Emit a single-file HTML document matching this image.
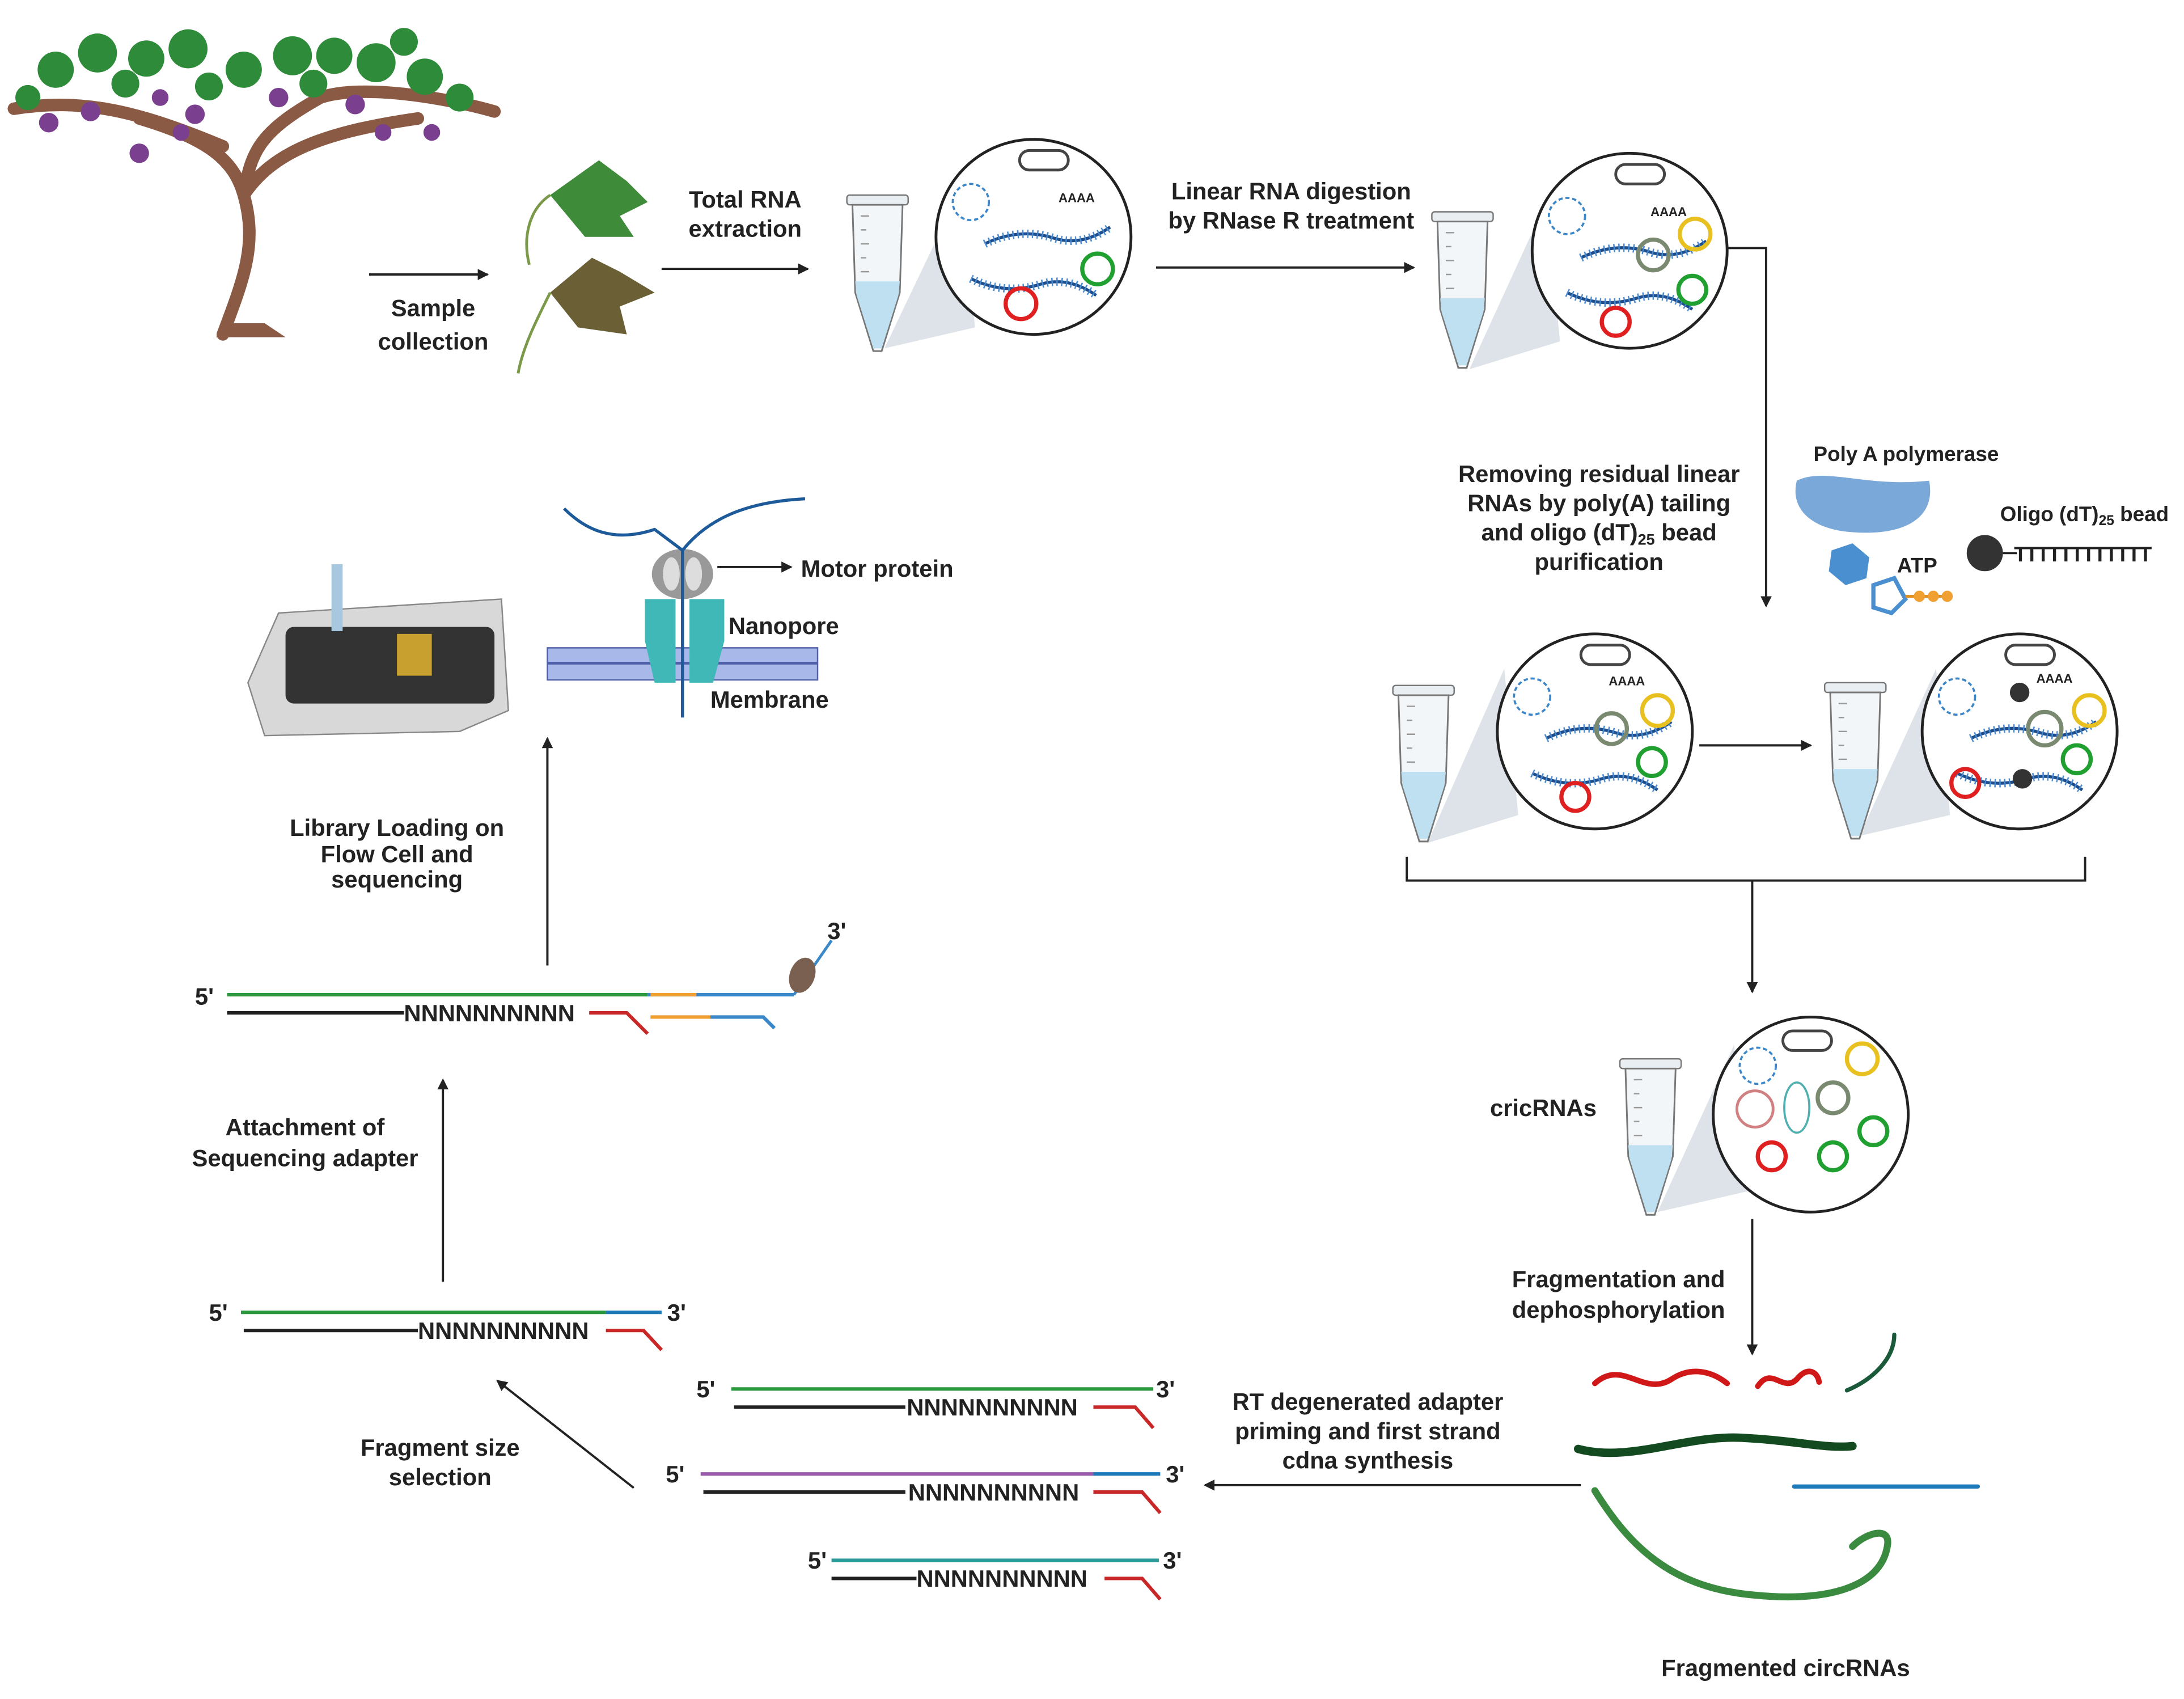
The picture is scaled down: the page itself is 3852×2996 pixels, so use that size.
<!DOCTYPE html>
<html><head><meta charset="utf-8">
<style>
html,body{margin:0;padding:0;background:#fff;}
svg{display:block;}
text{font-family:"Liberation Sans",sans-serif;font-weight:bold;fill:#222;}
</style></head>
<body>
<svg width="3852" height="2996" viewBox="0 0 1568 1219.5" xmlns="http://www.w3.org/2000/svg">
<defs>
<marker id="ah" markerWidth="8" markerHeight="8" refX="7" refY="4" orient="auto" markerUnits="userSpaceOnUse">
<path d="M0,0 L8,4 L0,8 z" fill="#222"/></marker>
<g id="tube">
<rect x="-22" y="0" width="44" height="7" rx="2" fill="#e8eef2" stroke="#777" stroke-width="1"/>
<path d="M-18,7 L18,7 L16,70 L3,112 L-3,112 L-16,70 Z" fill="#f3f6f8" stroke="#777" stroke-width="1.2"/>
<path d="M-16,62 L16,62 L15,72 L3,110 L-3,110 L-15,72 Z" fill="#bfe0f0"/>
<path d="M-12,15 h6 M-12,25 h4 M-12,35 h6 M-12,45 h4 M-12,55 h6" stroke="#999" stroke-width="1"/>
</g>
<g id="comb">
<path d="M0,0 q25,-12 50,-4 q20,6 40,-8" fill="none" stroke="#1d4d8a" stroke-width="2.2"/>
<path d="M0,0 q25,-12 50,-4 q20,6 40,-8" fill="none" stroke="#4a8ad0" stroke-width="6" stroke-dasharray="1,2.5"/>
</g>
<g id="circ">
<circle r="70" fill="#fff" stroke="#222" stroke-width="2"/>
<circle cx="-45" cy="-25" r="13" fill="none" stroke="#3a86c8" stroke-width="1.5" stroke-dasharray="3,2"/>
<rect x="-10" y="-62" width="35" height="14" rx="7" fill="none" stroke="#444" stroke-width="2"/>
<use href="#comb" x="-35" y="5"/>
<use href="#comb" x="-45" y="30" transform="scale(1,-1) translate(0,-60)"/>
</g>
</defs>

<!-- tree -->
<path d="M160,240 C175,200 185,175 175,140 C168,115 150,100 100,85 M175,140 C195,110 230,95 300,85 M10,78 C60,70 100,80 160,105 M175,140 C180,110 185,95 230,70 C260,60 320,70 355,80" fill="none" stroke="#8a5a44" stroke-width="9" stroke-linecap="round"/>
<path d="M155,242 L205,242 L190,232 L168,232 Z" fill="#8a5a44"/>
<g fill="#2e8b3a">
<circle cx="40" cy="50" r="13"/><circle cx="70" cy="38" r="14"/><circle cx="105" cy="42" r="13"/><circle cx="135" cy="35" r="14"/><circle cx="175" cy="50" r="13"/><circle cx="210" cy="40" r="14"/><circle cx="240" cy="40" r="13"/><circle cx="270" cy="45" r="14"/><circle cx="305" cy="55" r="13"/><circle cx="330" cy="70" r="10"/><circle cx="20" cy="70" r="9"/><circle cx="90" cy="60" r="10"/><circle cx="150" cy="62" r="10"/><circle cx="225" cy="60" r="10"/><circle cx="290" cy="30" r="10"/>
</g>
<g fill="#7b3f8f">
<circle cx="35" cy="88" r="7"/><circle cx="100" cy="110" r="7"/><circle cx="65" cy="80" r="7"/><circle cx="140" cy="82" r="7"/><circle cx="130" cy="95" r="6"/><circle cx="200" cy="70" r="7"/><circle cx="255" cy="75" r="7"/><circle cx="275" cy="95" r="6"/><circle cx="310" cy="95" r="6"/><circle cx="115" cy="70" r="6"/>
</g>
<!-- leaves -->
<path d="M395,140 l35,-25 l20,15 l15,15 l-20,10 l10,15 l-35,0 z" fill="#3e8c3a"/>
<path d="M395,210 l30,-25 l20,10 l25,15 l-25,10 l5,20 l-35,-5 z" fill="#6b6035"/>
<path d="M395,140 C380,150 375,170 380,190 M395,210 C385,230 375,250 372,268" fill="none" stroke="#7a9a4a" stroke-width="2"/>

<g stroke="#222" stroke-width="1.6" fill="none">
<line x1="265" y1="197" x2="350" y2="197" marker-end="url(#ah)"/>
<line x1="475" y1="193" x2="580" y2="193" marker-end="url(#ah)"/>
<line x1="830" y1="192" x2="1015" y2="192" marker-end="url(#ah)"/>
<path d="M1240,178 L1268,178 L1268,435" marker-end="url(#ah)"/>
<line x1="1220" y1="535" x2="1300" y2="535" marker-end="url(#ah)"/>
<path d="M1010,615 L1010,632 L1497,632 L1497,615"/>
<line x1="1258" y1="632" x2="1258" y2="712" marker-end="url(#ah)"/>
<line x1="1258" y1="875" x2="1258" y2="972" marker-end="url(#ah)"/>
<line x1="1135" y1="1066" x2="865" y2="1066" marker-end="url(#ah)"/>
<line x1="455" y1="1068" x2="357" y2="991" marker-end="url(#ah)"/>
<line x1="318" y1="920" x2="318" y2="775" marker-end="url(#ah)"/>
<line x1="393" y1="693" x2="393" y2="530" marker-end="url(#ah)"/>
<line x1="515" y1="407" x2="568" y2="407" marker-end="url(#ah)"/>
</g>

<!-- tubes, wedges, circles -->
<path d="M635,250 L690,135 L700,235 Z" fill="#dde3e8"/>
<use href="#tube" x="630" y="140"/>
<use href="#circ" x="742" y="170"/>
<circle cx="733" cy="218" r="11" fill="none" stroke="#e02020" stroke-width="3"/>
<circle cx="788" cy="193" r="11" fill="none" stroke="#20a030" stroke-width="3"/>
<text x="760" y="145" font-size="9" font-weight="normal">AAAA</text>

<path d="M1055,265 L1110,145 L1120,245 Z" fill="#dde3e8"/>
<use href="#tube" x="1050" y="152"/>
<use href="#circ" x="1170" y="180"/>
<circle cx="1187" cy="183" r="11" fill="none" stroke="#7a8a70" stroke-width="3"/>
<circle cx="1217" cy="168" r="11" fill="none" stroke="#e8c020" stroke-width="3"/>
<circle cx="1215" cy="208" r="10" fill="none" stroke="#20a030" stroke-width="3"/>
<circle cx="1160" cy="231" r="10" fill="none" stroke="#e02020" stroke-width="3"/>
<text x="1185" y="155" font-size="9" font-weight="normal">AAAA</text>

<path d="M1025,605 L1080,480 L1090,585 Z" fill="#dde3e8"/>
<use href="#tube" x="1022" y="492"/>
<use href="#circ" x="1145" y="525"/>
<circle cx="1157" cy="523" r="11" fill="none" stroke="#7a8a70" stroke-width="3"/>
<circle cx="1190" cy="510" r="11" fill="none" stroke="#e8c020" stroke-width="3"/>
<circle cx="1186" cy="547" r="10" fill="none" stroke="#20a030" stroke-width="3"/>
<circle cx="1131" cy="572" r="10" fill="none" stroke="#e02020" stroke-width="3"/>
<text x="1155" y="492" font-size="9" font-weight="normal">AAAA</text>

<path d="M1335,600 L1390,480 L1400,585 Z" fill="#dde3e8"/>
<use href="#tube" x="1332" y="490"/>
<use href="#circ" x="1450" y="525"/>
<circle cx="1468" cy="523" r="12" fill="none" stroke="#7a8a70" stroke-width="3"/>
<circle cx="1500" cy="510" r="11" fill="none" stroke="#e8c020" stroke-width="3"/>
<circle cx="1491" cy="545" r="10" fill="none" stroke="#20a030" stroke-width="3"/>
<circle cx="1411" cy="562" r="10" fill="none" stroke="#e02020" stroke-width="3"/>
<circle cx="1450" cy="497" r="7" fill="#333"/><circle cx="1452" cy="559" r="7" fill="#333"/>
<text x="1462" y="490" font-size="9" font-weight="normal">AAAA</text>

<path d="M1190,870 L1245,750 L1255,855 Z" fill="#dde3e8"/>
<use href="#tube" x="1185" y="760"/>
<circle cx="1300" cy="800" r="70" fill="#fff" stroke="#222" stroke-width="2"/>
<rect x="1280" y="740" width="35" height="14" rx="7" fill="none" stroke="#444" stroke-width="2"/>
<circle cx="1262" cy="765" r="13" fill="none" stroke="#3a86c8" stroke-width="1.5" stroke-dasharray="3,2"/>
<circle cx="1337" cy="760" r="11" fill="none" stroke="#e8c020" stroke-width="3"/>
<circle cx="1260" cy="796" r="13" fill="none" stroke="#d08080" stroke-width="2"/>
<ellipse cx="1290" cy="795" rx="9" ry="18" fill="none" stroke="#50b0b0" stroke-width="1.5"/>
<circle cx="1316" cy="788" r="11" fill="none" stroke="#7a8a70" stroke-width="3"/>
<circle cx="1345" cy="812" r="10" fill="none" stroke="#20a030" stroke-width="3"/>
<circle cx="1272" cy="830" r="10" fill="none" stroke="#e02020" stroke-width="3"/>
<circle cx="1316" cy="830" r="10" fill="none" stroke="#20a030" stroke-width="3"/>

<!-- poly A reagents -->
<path d="M1290,345 C1310,335 1340,350 1385,345 C1390,370 1370,385 1330,382 C1300,380 1285,365 1290,345 Z" fill="#7aa8d8"/>
<polygon points="1315,395 1330,390 1342,400 1340,415 1325,420 1313,410" fill="#4a90d0"/>
<polygon points="1345,420 1360,415 1368,430 1358,440 1345,436" fill="none" stroke="#4a90d0" stroke-width="3"/>
<path d="M1368,428 L1400,428" stroke="#e09020" stroke-width="2"/>
<circle cx="1378" cy="428" r="4" fill="#f0a030"/><circle cx="1388" cy="428" r="4" fill="#f0a030"/><circle cx="1398" cy="428" r="4" fill="#f0a030"/>
<circle cx="1425" cy="397" r="13" fill="#333"/>
<line x1="1438" y1="397" x2="1448" y2="397" stroke="#222" stroke-width="1.5"/>
<text x="1446" y="403" font-size="15" font-weight="normal" letter-spacing="-1">TTTTTTTTTTTT</text>

<!-- fragments -->
<g fill="none" stroke-linecap="round">
<path d="M1145,993 C1165,975 1180,1003 1200,990 C1215,980 1230,985 1240,993" stroke="#d01818" stroke-width="4"/>
<path d="M1262,995 C1272,980 1280,1000 1290,990 C1298,980 1305,985 1306,992" stroke="#d01818" stroke-width="4"/>
<path d="M1326,998 C1345,990 1360,975 1360,958" stroke="#1a5a3a" stroke-width="3"/>
<path d="M1133,1040 C1170,1050 1210,1030 1250,1032 C1290,1034 1310,1040 1330,1038" stroke="#134a20" stroke-width="6"/>
<line x1="1288" y1="1067" x2="1420" y2="1067" stroke="#1e7ab8" stroke-width="3"/>
<path d="M1145,1070 C1170,1110 1200,1140 1260,1145 C1310,1150 1350,1140 1355,1110 C1358,1095 1340,1100 1330,1110" stroke="#3a8a40" stroke-width="5"/>
</g>

<!-- constructs -->
<g fill="none" stroke-width="2.5">
<line x1="525" y1="997" x2="828" y2="997" stroke="#2a9a3e"/>
<line x1="527" y1="1010" x2="650" y2="1010" stroke="#222"/>
<path d="M785,1010 L815,1010 L828,1025" stroke="#c82828"/>
<line x1="503" y1="1058" x2="785" y2="1058" stroke="#9a5aaa"/>
<line x1="785" y1="1058" x2="833" y2="1058" stroke="#1e7ab8"/>
<line x1="505" y1="1071" x2="650" y2="1071" stroke="#222"/>
<path d="M785,1071 L820,1071 L833,1086" stroke="#c82828"/>
<line x1="597" y1="1120" x2="832" y2="1120" stroke="#2a9a9a"/>
<line x1="597" y1="1133" x2="658" y2="1133" stroke="#222"/>
<path d="M793,1133 L820,1133 L833,1148" stroke="#c82828"/>
<line x1="173" y1="942" x2="435" y2="942" stroke="#2a9a3e"/>
<line x1="435" y1="942" x2="475" y2="942" stroke="#1e7ab8"/>
<line x1="175" y1="955" x2="300" y2="955" stroke="#222"/>
<path d="M435,955 L462,955 L475,969" stroke="#c82828"/>
<line x1="163" y1="714" x2="465" y2="714" stroke="#2a9a3e"/>
<line x1="465" y1="714" x2="570" y2="714" stroke="#3a88c8"/>
<line x1="467" y1="714" x2="500" y2="714" stroke="#f0a030"/>
<path d="M570,714 L597,675" stroke="#3a88c8" stroke-width="2"/>
<line x1="163" y1="727" x2="290" y2="727" stroke="#222"/>
<path d="M423,727 L450,727 L465,742" stroke="#c82828"/>
<line x1="467" y1="730" x2="510" y2="730" stroke="#f0a030"/>
<path d="M510,730 L548,730 L556,738" stroke="#3a88c8"/>
</g>
<ellipse cx="576" cy="700" rx="9" ry="13" fill="#7a6050" transform="rotate(20 576 700)"/>
<g font-size="17" font-weight="normal">
<text x="651" y="1016">NNNNNNNNNN</text>
<text x="652" y="1077">NNNNNNNNNN</text>
<text x="658" y="1139">NNNNNNNNNN</text>
<text x="300" y="961">NNNNNNNNNN</text>
<text x="290" y="733">NNNNNNNNNN</text>
<text x="500" y="1003">5'</text><text x="830" y="1003">3'</text>
<text x="478" y="1064">5'</text><text x="837" y="1064">3'</text>
<text x="580" y="1126">5'</text><text x="835" y="1126">3'</text>
<text x="150" y="948">5'</text><text x="479" y="948">3'</text>
<text x="140" y="721">5'</text><text x="594" y="674">3'</text>
</g>

<!-- flow cell -->
<path d="M178,490 L200,440 L360,430 L365,510 L330,525 L190,528 Z" fill="#d8d8d8" stroke="#888"/>
<rect x="205" y="450" width="150" height="55" rx="6" fill="#333"/>
<rect x="285" y="455" width="25" height="30" fill="#c8a030"/>
<rect x="238" y="405" width="8" height="48" fill="#a8c8e0"/>
<!-- nanopore -->
<g stroke="#5060a8" stroke-width="1">
<rect x="393" y="465" width="194" height="23" fill="#a8b8e8"/>
<line x1="393" y1="476" x2="587" y2="476" stroke-width="2"/>
</g>
<path d="M463,430 L485,430 L485,490 L470,490 L463,460 Z M495,430 L520,430 L520,460 L512,490 L495,490 Z" fill="#40b8b8"/>
<ellipse cx="490" cy="412" rx="22" ry="18" fill="#999"/>
<ellipse cx="482" cy="412" rx="6" ry="12" fill="#ddd"/><ellipse cx="498" cy="412" rx="6" ry="12" fill="#ddd"/>
<path d="M405,365 C420,380 440,390 470,380 L490,395 M490,395 C510,370 540,360 578,358 M490,395 L490,515" fill="none" stroke="#1d5a9a" stroke-width="2.2"/>

<!-- labels -->
<g font-size="17" text-anchor="middle">
<text x="311" y="227">Sample</text><text x="311" y="251">collection</text>
<text x="535" y="149">Total RNA</text><text x="535" y="170">extraction</text>
<text x="927" y="143">Linear RNA digestion</text><text x="927" y="164">by RNase R treatment</text>
<text x="1148" y="346">Removing residual linear</text><text x="1148" y="367">RNAs by poly(A) tailing</text><text x="1148" y="388">and oligo (dT)<tspan font-size="11" dy="3">25</tspan><tspan dy="-3"> bead</tspan></text><text x="1148" y="409">purification</text>
<text x="1162" y="924">Fragmentation and</text><text x="1162" y="946">dephosphorylation</text>
<text x="982" y="1012">RT degenerated adapter</text><text x="982" y="1033">priming and first strand</text><text x="982" y="1054">cdna synthesis</text>
<text x="316" y="1045">Fragment size</text><text x="316" y="1066">selection</text>
<text x="219" y="815">Attachment of</text><text x="219" y="837">Sequencing adapter</text>
<text x="285" y="600">Library Loading on</text><text x="285" y="619">Flow Cell and</text><text x="285" y="637">sequencing</text>
<text x="1282" y="1203">Fragmented circRNAs</text>
<text x="1108" y="801">cricRNAs</text>
</g>
<g font-size="15">
<text x="1302" y="331">Poly A polymerase</text>
<text x="1362" y="411">ATP</text>
<text x="1436" y="374">Oligo (dT)<tspan font-size="10" dy="3">25</tspan><tspan dy="-3"> bead</tspan></text>
</g>
<g font-size="17">
<text x="575" y="414">Motor protein</text>
<text x="523" y="455">Nanopore</text>
<text x="510" y="508">Membrane</text>
</g>
</svg>
</body></html>
